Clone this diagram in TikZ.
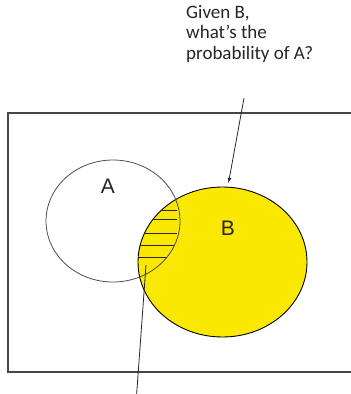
\documentclass[tikz,border=0pt]{standalone}
\usepackage{fontspec}
\setmainfont{Carlito}
\newfontfamily\labelfont{Liberation Sans}
\usepackage{tikz}
\usetikzlibrary{
  arrows,
  positioning
}
\tikzset{>=latex}
\definecolor{setyellow}{RGB}{250,232,0}
\tikzset{setlabel/.style={font=\fontsize{21}{21}\selectfont\labelfont, text=black!85},
  hatch/.style={line width=1pt, black!85}}

\begin{document}
\begin{tikzpicture}[x=1pt, y=-1pt]
    \useasboundingbox (0,0) rectangle (351,394);
    % the sample space, open on the right
    \draw[line width=1.6pt, black!72] (352,113) -- (8,113) -- (8,372) -- (352,372);
    % event B
    \draw[line width=0.9pt, fill=setyellow] (222.5,262) ellipse [x radius=84.5, y radius=75];
    % A and B
    \begin{scope}
        \clip (222.5,262) ellipse [x radius=84.5, y radius=75];
        \clip (113,221) ellipse [x radius=67, y radius=61];
        \foreach \y in {210,219,233,245,257}
            \draw[hatch] (130,\y) -- (177,\y);
    \end{scope}
    % event A
    \draw[line width=0.8pt, black!70] (113,221) ellipse [x radius=67, y radius=61];
    \node[setlabel] (A) at (108,186) {A};
    \node[setlabel] (B) at (228,228) {B};
    \node[anchor=north west, align=left, inner sep=0pt, text=black!85,
          font=\fontsize{19}{20.5}\selectfont] (question) at (186,5)
          {Given B,\\what’s the\\probability of A?};
    \coordinate (qfoot) at (244,98);
    \coordinate (btop) at (228.5,183);
    \draw[->, line width=0.8pt, black!85] (qfoot) -- (btop);
    \coordinate (lens) at (146,265);
    \coordinate (below) at (136.5,396);
    \draw[line width=0.8pt, black!85] (lens) -- (below);
\end{tikzpicture}
\end{document}
